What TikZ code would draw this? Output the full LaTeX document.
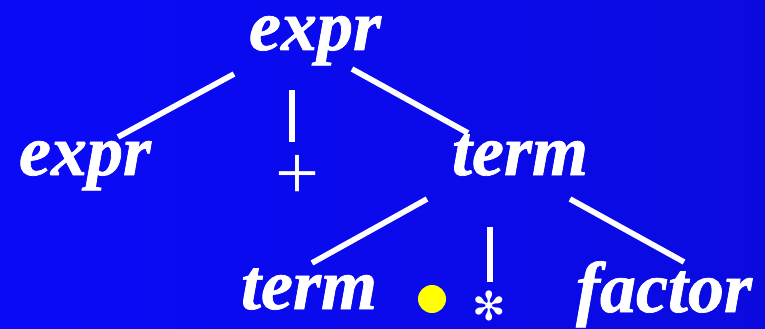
\documentclass[tikz,border=0pt]{standalone}
\usepackage{fontspec}
\newfontfamily\treefont[BoldItalicFeatures={FakeBold=1}]{Liberation Serif}
\newfontfamily\starfont{DejaVu Sans}
\usetikzlibrary{calc}

\definecolor{bgLeft}{HTML}{0A0AF8}
\definecolor{bgRight}{HTML}{0A0AE0}
\definecolor{dotColour}{HTML}{FFFF00}

\tikzset{
    word/.style={font=\fontsize{72}{86}\selectfont\treefont\bfseries\itshape,
        text=white, inner sep=0pt, anchor=base},
    symbol/.style={font=\fontsize{72}{86}\selectfont\treefont,
        text=white, inner sep=0pt},
    branch/.style={draw=white, line width=5.6pt}
}

\begin{document}
\begin{tikzpicture}[x=1pt, y=-1pt]
    % Background
    \shade[left color=bgLeft, right color=bgRight] (0,0) rectangle (765,329);
    \useasboundingbox (0,0) rectangle (765,329);

    % Tree nodes
    \node[word] (root) at (315,50) {expr};
    \node[word] (lexpr) at (85,175) {expr};
    \node[symbol, font=\fontsize{78}{90}\selectfont\treefont] (plus) at (297,177) {+};
    \node[word] (rterm) at (520,175) {term};
    \node[word] (lterm) at (309,309) {term};
    \node[circle, fill=dotColour, minimum size=28pt, inner sep=0pt] (dot) at (432,299) {};
    \node[symbol, font=\fontsize{40}{48}\selectfont\starfont] (star) at (489,306) {✻};
    \node[word] (factor) at (664,312) {factor};

    % Branches of the root
    \draw[branch] ($(root.base)+(-81,24)$) -- ($(lexpr.base)+(33,-38)$);
    \draw[branch] ($(plus.north |- root.base)+(-5,40)$) -- ($(plus.north)+(-5,-13)$);
    \draw[branch] ($(root.base)+(37,19)$) -- ($(rterm.base)+(-52,-42)$);

    % Branches of the right term
    \draw[branch] ($(rterm.base)+(-93,24)$) -- ($(lterm.base)+(3,-46)$);
    \draw[branch] ($(star.center |- rterm.base)+(1,52)$) -- ($(star.center |- rterm.base)+(1,107)$);
    \draw[branch] ($(rterm.base)+(50,24)$) -- ($(factor.base)+(20,-50)$);

\end{tikzpicture}
\end{document}
